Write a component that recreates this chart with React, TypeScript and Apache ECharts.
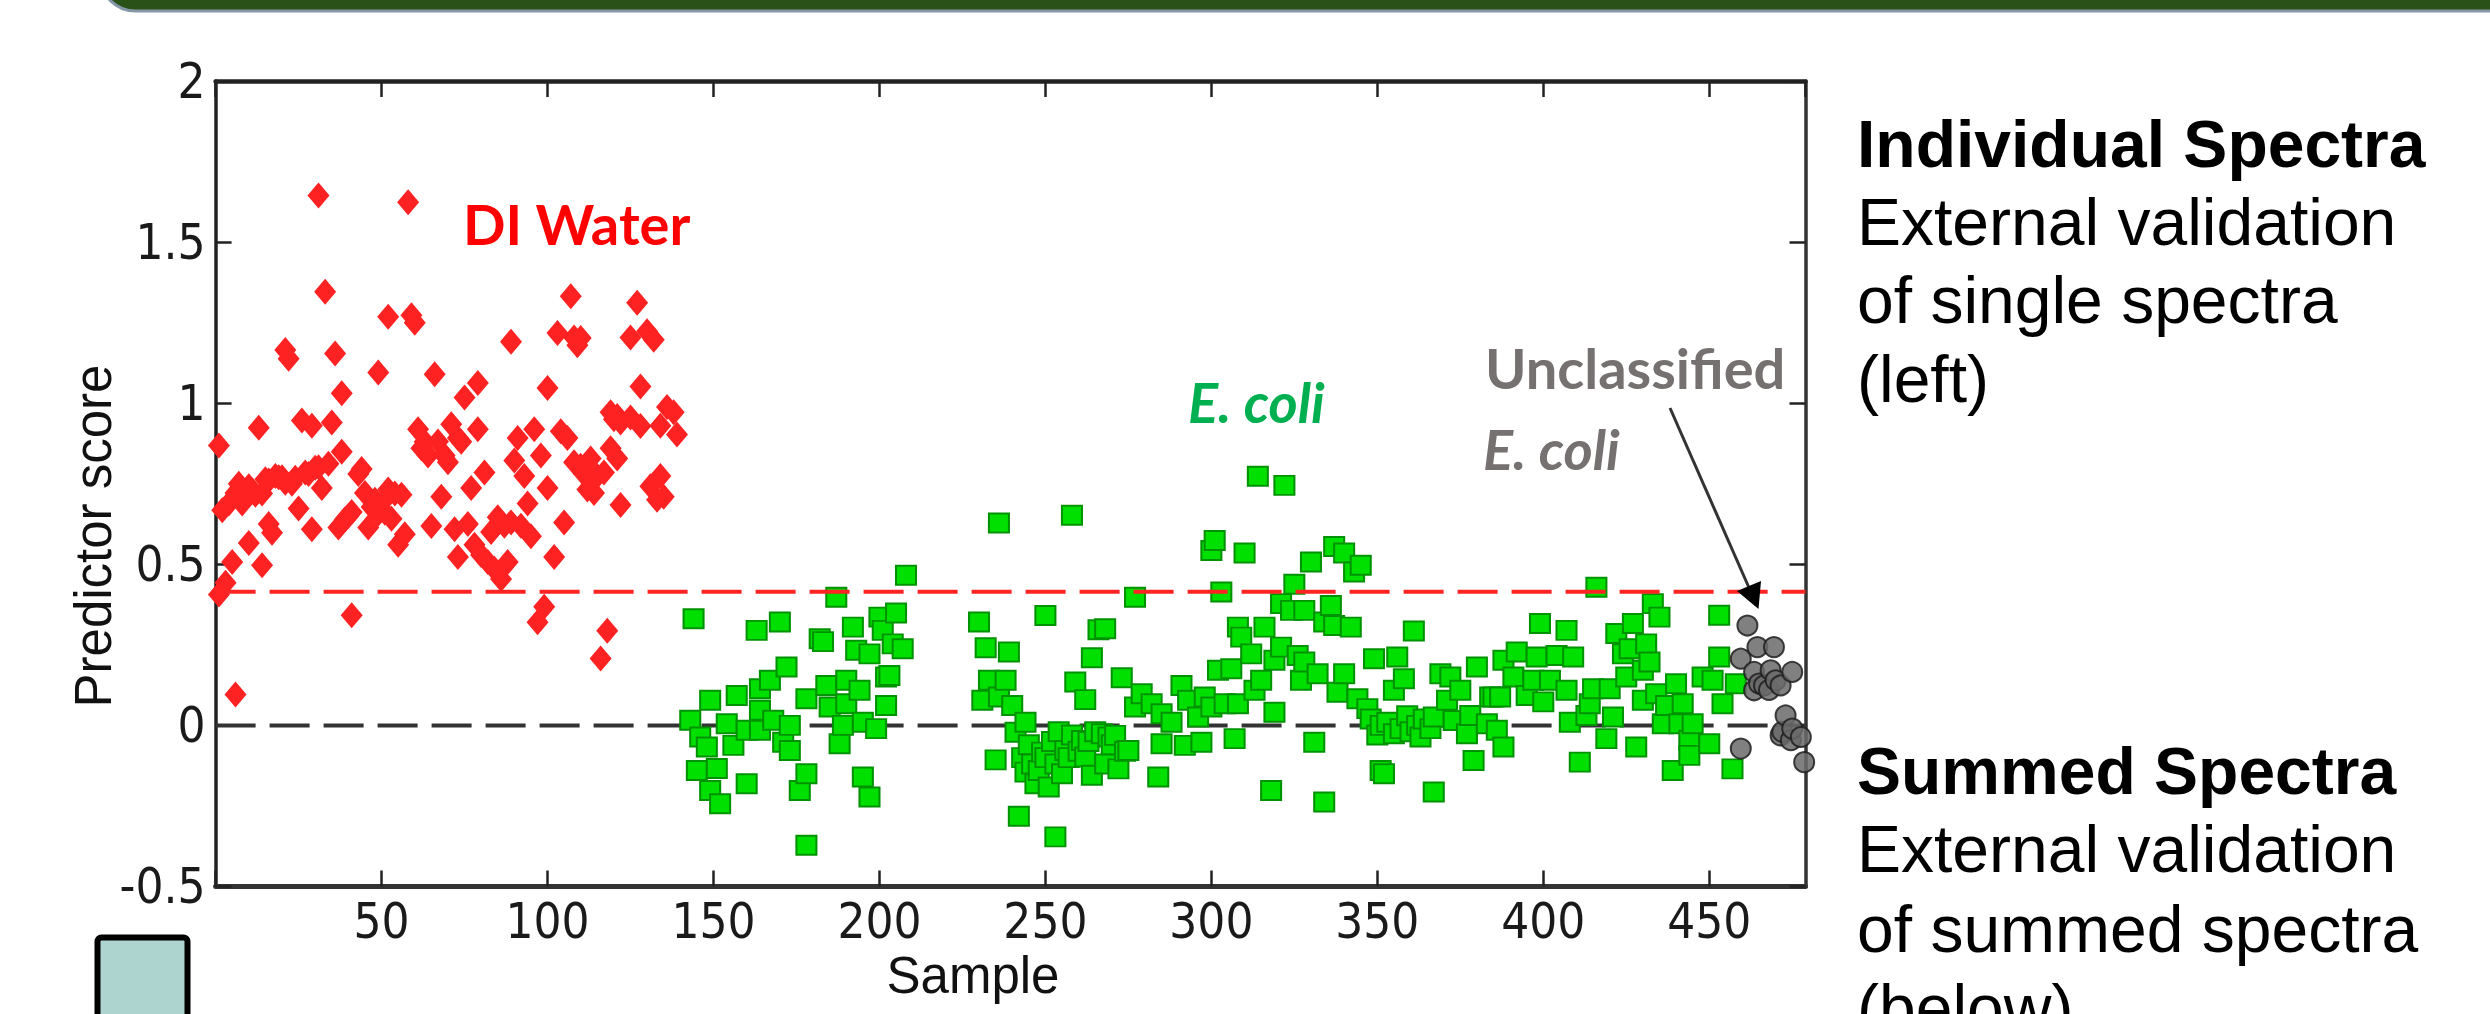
import React, { useEffect, useRef } from "react";
import * as echarts from "echarts";

// [sample, predictor score]
const diWater: [number, number][] = [
  [1, 0.869], [1, 0.406], [2, 0.668], [3, 0.443], [4, 0.689], [5, 0.507], [6, 0.096], [6, 0.721],
  [7, 0.75], [8, 0.689], [9, 0.72], [10, 0.566], [10, 0.742], [11, 0.73], [12, 0.716], [13, 0.924],
  [14, 0.497], [14, 0.72], [15, 0.764], [16, 0.625], [16, 0.76], [17, 0.598], [18, 0.774], [19, 0.77],
  [20, 0.77], [21, 0.753], [21, 1.165], [22, 1.138], [23, 0.75], [24, 0.769], [25, 0.673], [26, 0.946],
  [27, 0.785], [28, 0.78], [29, 0.93], [29, 0.609], [30, 0.8], [31, 1.645], [31, 0.801], [32, 0.737],
  [33, 1.346], [34, 0.812], [35, 0.94], [36, 1.154], [37, 0.614], [38, 0.849], [38, 1.031], [39, 0.64],
  [40, 0.65], [41, 0.342], [41, 0.662], [43, 0.78], [44, 0.796], [45, 0.721], [46, 0.614], [47, 0.678],
  [48, 0.7], [49, 1.095], [49, 0.657], [50, 0.69], [51, 0.66], [52, 1.268], [52, 0.732], [53, 0.641],
  [54, 0.72], [55, 0.561], [56, 0.716], [57, 0.593], [58, 1.624], [59, 1.273], [60, 1.25], [61, 0.919],
  [62, 0.86], [63, 0.88], [64, 0.838], [65, 0.619], [66, 1.09], [67, 0.881], [68, 0.71], [69, 0.838],
  [70, 0.817], [71, 0.935], [72, 0.609], [73, 0.892], [73, 0.523], [74, 0.88], [75, 1.018], [76, 0.625],
  [77, 0.737], [78, 0.561], [79, 1.063], [79, 0.919], [80, 0.529], [81, 0.785], [82, 0.507], [83, 0.6],
  [84, 0.486], [85, 0.646], [86, 0.454], [87, 0.62], [88, 0.507], [89, 1.191], [89, 0.63], [90, 0.822],
  [91, 0.892], [92, 0.62], [93, 0.774], [94, 0.689], [95, 0.587], [96, 0.919], [97, 0.32], [98, 0.838],
  [99, 0.368], [100, 1.047], [100, 0.737], [102, 0.523], [103, 1.218], [104, 0.913], [105, 0.63], [106, 0.892],
  [107, 1.332], [108, 1.204], [108, 0.817], [109, 1.18], [110, 1.202], [110, 0.806], [111, 0.78], [112, 0.732],
  [113, 0.828], [114, 0.721], [115, 0.774], [116, 0.208], [117, 0.785], [118, 0.294], [119, 0.972], [119, 0.86],
  [120, 0.95], [121, 0.96], [121, 0.828], [122, 0.94], [122, 0.684], [125, 1.204], [125, 0.956], [127, 1.312],
  [128, 1.052], [128, 0.929], [130, 1.223], [131, 0.742], [132, 1.197], [133, 0.7], [134, 0.93], [134, 0.774],
  [135, 0.71], [136, 0.988], [138, 0.972], [139, 0.903],
];

const eColi: [number, number][] = [
  [143, 0.016], [144, 0.331], [145, -0.14], [146, -0.036], [148, -0.067], [149, 0.078], [149, -0.202], [151, -0.134],
  [152, -0.243], [154, 0.005], [156, -0.062], [157, 0.093], [160, -0.181], [160, -0.015], [163, 0.295], [164, 0.047],
  [164, -0.015], [164, 0.114], [167, 0.14], [168, 0.016], [170, 0.321], [171, -0.052], [172, 0.181], [173, 0],
  [173, -0.078], [176, -0.202], [178, -0.15], [178, -0.372], [178, 0.083], [182, 0.269], [183, 0.26], [184, 0.124],
  [185, 0.057], [187, 0.398], [188, -0.057], [189, 0], [190, 0.14], [190, 0.067], [192, 0.305], [193, 0.233],
  [194, 0.109], [195, 0.01], [195, -0.16], [197, 0.222], [197, -0.222], [199, -0.01], [200, 0.336], [201, 0.295],
  [202, 0.062], [202, 0.15], [203, 0.155], [204, 0.253], [205, 0.349], [207, 0.238], [208, 0.466],
  [230, 0.321], [231, 0.078], [232, 0.241], [233, 0.14], [235, -0.107], [236, 0.628], [236, 0.088], [238, 0.14],
  [239, 0.228], [240, 0.062], [241, -0.021], [242, -0.282], [243, -0.1], [244, 0.01], [244, -0.145], [245, -0.06],
  [246, -0.12], [247, -0.181], [248, -0.14], [249, -0.083], [250, 0.341], [250, -0.1], [251, -0.191], [252, -0.05],
  [253, -0.346], [253, -0.12], [254, -0.02], [255, -0.15], [256, -0.078], [257, -0.1], [258, 0.652], [258, -0.03],
  [259, 0.135], [260, -0.08], [261, -0.047], [262, 0.08], [262, -0.098], [263, -0.05], [264, 0.21], [264, -0.155],
  [265, -0.02], [266, 0.297], [267, -0.026], [268, 0.3], [268, -0.12], [269, -0.036], [270, -0.06], [271, -0.031],
  [272, -0.135], [273, 0.148], [274, -0.08], [275, -0.078], [277, 0.398], [277, 0.057], [279, 0.098], [282, 0.067],
  [284, -0.16], [285, 0.036], [285, -0.057], [288, 0.01], [291, 0.124], [292, -0.062], [293, 0.078], [296, 0.026],
  [297, -0.052], [298, 0.088], [300, 0.543], [300, 0.057], [301, 0.574], [302, 0.171], [303, 0.414], [304, 0.067],
  [306, 0.176], [307, -0.041], [308, 0.305], [308, 0.067], [309, 0.274], [310, 0.535], [312, 0.222], [313, 0.109],
  [314, 0.773], [315, 0.14], [316, 0.305], [318, -0.202], [319, 0.202], [319, 0.041], [321, 0.243], [321, 0.378],
  [322, 0.745], [324, 0.357], [325, 0.438], [326, 0.217], [327, 0.14], [328, 0.197], [328, 0.357], [330, 0.507],
  [331, -0.052], [332, 0.16], [334, 0.321], [334, -0.238], [336, 0.372], [337, 0.555], [337, 0.31], [338, 0.103],
  [340, 0.535], [340, 0.16], [342, 0.305], [343, 0.476], [344, 0.083], [345, 0.497], [347, 0.052], [348, 0.02],
  [349, 0.207], [350, -0.03], [351, 0], [351, -0.14], [352, -0.15], [353, 0.01], [355, 0.109], [355, -0.026],
  [356, 0.212], [357, -0.01], [358, 0.145], [359, 0.03], [360, -0.02], [361, 0.293], [362, 0], [363, -0.036],
  [364, 0.02], [366, -0.01], [367, 0.026], [367, -0.207], [369, 0.16], [371, 0.078], [372, 0.15], [373, 0.015],
  [375, 0.109], [377, -0.026], [378, 0.031], [379, -0.109], [380, 0.181], [383, 0.005], [384, 0.088], [385, 0.088],
  [386, -0.015], [387, 0.088], [388, 0.202], [388, -0.067], [391, 0.15], [392, 0.228], [395, 0.093], [397, 0.14],
  [398, 0.212], [399, 0.316], [400, 0.073], [402, 0.14], [404, 0.217], [407, 0.295], [407, 0.109], [408, 0.01],
  [409, 0.212], [411, -0.114], [413, 0.031], [414, 0.067], [415, 0.114], [416, 0.429], [419, -0.041], [420, 0.114],
  [421, 0.026], [422, 0.285], [424, 0.222], [425, 0.15], [426, 0.238], [427, 0.316], [428, -0.067], [430, 0.171],
  [430, 0.078], [431, 0.253], [432, 0.197], [433, 0.378], [434, 0.098], [435, 0.336], [436, 0.005], [437, 0.062],
  [439, -0.14], [440, 0.129], [441, 0.005], [442, 0.067], [444, -0.046], [444, -0.093], [445, 0.005], [448, 0.15],
  [450, -0.057], [451, 0.14], [453, 0.342], [453, 0.212], [454, 0.067], [457, -0.135], [458, 0.129],
];

const unclassified: [number, number][] = [
  [459.5, 0.207], [459.5, -0.072], [461.5, 0.31], [463.5, 0.166], [463.5, 0.109], [464.5, 0.243], [465, 0.13],
  [466.5, 0.124], [468, 0.11], [468.5, 0.171], [469.5, 0.243], [470, 0.14], [471.5, 0.124], [471.5, -0.031],
  [472, -0.02], [473, 0.031], [474.6, -0.046], [475, 0.166], [475, -0.01], [477.6, -0.036], [478.6, -0.114],
];

const thresholdScore = 0.415;
const zeroScore = 0;
const xRange: [number, number] = [0, 479];
const xTickStep = 50;
const yRange: [number, number] = [-0.5, 2];
const yTickStep = 0.5;

const topNote = ["Individual Spectra", "External validation", "of single spectra", "(left)"];
const bottomNote = ["Summed Spectra", "External validation", "of summed spectra", "(below)"];

const TICK_FONT = '"Liberation Sans Narrow", "DejaVu Sans Condensed", "Liberation Sans", sans-serif';
const SANS = '"Liberation Sans", Arial, sans-serif';
const CALLOUT = 'Lato, "Open Sans", sans-serif';

function txt(x: number, y: number, text: string, o: any = {}) {
  const align = o.align || "left";
  return {
    type: "text",
    x,
    y,
    rotation: o.rotation || 0,
    z: 100,
    style: {
      text,
      fill: o.fill || "#000",
      fontSize: o.size || 66,
      fontWeight: o.weight || "normal",
      fontStyle: o.style || "normal",
      fontFamily: o.family || SANS,
      align,
      verticalAlign: "middle",
      textAlign: align,
      textVerticalAlign: "middle",
    },
  };
}

export default function App() {
  const ref = useRef<HTMLDivElement>(null);

  useEffect(() => {
    document.body.style.margin = "0";
    const chart = echarts.init(ref.current!, null, { renderer: "svg" });

    const axisCommon = {
      type: "value",
      splitLine: { show: false },
      axisTick: { show: true, inside: true, length: 16, lineStyle: { color: "#222", width: 2.5 } },
    };

    const xLabelFmt = (v: number) => (v > 0 && v % xTickStep === 0 ? String(v) : "");

    const noteLines: any[] = [];
    const topY = [144, 222, 300, 379];
    const botY = [771, 849, 929, 1008];
    topNote.forEach((t, i) => noteLines.push(txt(1857, topY[i], t, { weight: i === 0 ? "bold" : "normal" })));
    bottomNote.forEach((t, i) => noteLines.push(txt(1857, botY[i], t, { weight: i === 0 ? "bold" : "normal" })));

    const option: any = {
      animation: false,
      backgroundColor: "#ffffff",
      grid: { left: 215.6, top: 81, width: 1589.9, height: 805.5, containLabel: false },
      xAxis: [
        {
          ...axisCommon,
          min: xRange[0],
          max: xRange[1],
          interval: xTickStep,
          position: "bottom",
          axisLine: { show: true, onZero: false, lineStyle: { color: "#333", width: 5 } },
          axisLabel: {
            show: true,
            formatter: xLabelFmt,
            fontFamily: TICK_FONT,
            fontSize: 49,
            color: "#1a1a1a",
            margin: 10,
            showMaxLabel: false,
          },
        },
        {
          ...axisCommon,
          min: xRange[0],
          max: xRange[1],
          interval: xTickStep,
          position: "top",
          axisLine: { show: true, onZero: false, lineStyle: { color: "#222", width: 4.5 } },
          axisLabel: { show: false },
        },
      ],
      yAxis: [
        {
          ...axisCommon,
          min: yRange[0],
          max: yRange[1],
          interval: yTickStep,
          position: "left",
          axisLine: { show: true, onZero: false, lineStyle: { color: "#222", width: 3.5 } },
          axisLabel: {
            show: true,
            fontFamily: TICK_FONT,
            fontSize: 49,
            color: "#1a1a1a",
            margin: 10,
          },
        },
        {
          ...axisCommon,
          min: yRange[0],
          max: yRange[1],
          interval: yTickStep,
          position: "right",
          axisLine: { show: true, onZero: false, lineStyle: { color: "#333", width: 3.5 } },
          axisLabel: { show: false },
        },
      ],
      series: [
        {
          type: "line",
          data: [[xRange[0], zeroScore], [xRange[1], zeroScore]],
          symbol: "none",
          silent: true,
          z: 1,
          lineStyle: { color: "#333333", width: 4, type: [40, 14] },
        },
        {
          name: "DI Water",
          type: "scatter",
          data: diWater,
          symbol: "diamond",
          symbolSize: [22, 26],
          z: 3,
          itemStyle: { color: "#ff2222", opacity: 1 },
        },
        {
          name: "E. coli",
          type: "scatter",
          data: eColi,
          symbol: "rect",
          symbolSize: [20, 19],
          z: 3,
          itemStyle: { color: "#00e000", borderColor: "#009200", borderWidth: 2, opacity: 1 },
        },
        {
          name: "Unclassified E. coli",
          type: "scatter",
          data: unclassified,
          symbol: "circle",
          symbolSize: 20,
          z: 4,
          clip: false,
          itemStyle: { color: "#6a6a6a", borderColor: "#1e1e1e", borderWidth: 2, opacity: 0.85 },
        },
        {
          type: "line",
          data: [[xRange[0], thresholdScore], [xRange[1], thresholdScore]],
          symbol: "none",
          silent: true,
          z: 5,
          lineStyle: { color: "#ff2424", width: 4, type: [40, 14] },
        },
      ],
      graphic: [
        {
          type: "rect",
          z: 50,
          shape: { x: 100, y: -60, width: 2500, height: 71, r: 50 },
          style: { fill: "#2a5118", stroke: "#8797aa", lineWidth: 3 },
        },
        {
          type: "rect",
          z: 50,
          shape: { x: 97.5, y: 937.5, width: 90, height: 120, r: 4 },
          style: { fill: "#aed4d0", stroke: "#000000", lineWidth: 6 },
        },
        txt(93, 536, "Predictor score", { size: 51, rotation: Math.PI / 2, align: "center", fill: "#111" }),
        txt(973, 975, "Sample", { size: 51, align: "center", fill: "#111" }),
        txt(463, 223, "DI Water", { size: 56, weight: "bold", family: CALLOUT, fill: "#ff0000" }),
        txt(1188, 401, "E. coli", { size: 56, weight: "bold", style: "italic", family: CALLOUT, fill: "#00b050" }),
        txt(1485, 367, "Unclassified", { size: 56, weight: "bold", family: CALLOUT, fill: "#767171" }),
        txt(1483, 448, "E. coli", { size: 56, weight: "bold", style: "italic", family: CALLOUT, fill: "#767171" }),
        {
          type: "line",
          z: 60,
          shape: { x1: 1670, y1: 408, x2: 1750, y2: 590 },
          style: { stroke: "#333333", lineWidth: 3 },
        },
        {
          type: "polygon",
          z: 60,
          shape: { points: [[1737, 591], [1761, 581], [1758.5, 609]] },
          style: { fill: "#000000" },
        },
        ...noteLines,
      ],
    };

    chart.setOption(option);
    return () => chart.dispose();
  }, []);

  return (
    <div
      ref={ref}
      style={{ position: "absolute", left: 0, top: 0, width: 2490, height: 1014, background: "#fff" }}
    />
  );
}
